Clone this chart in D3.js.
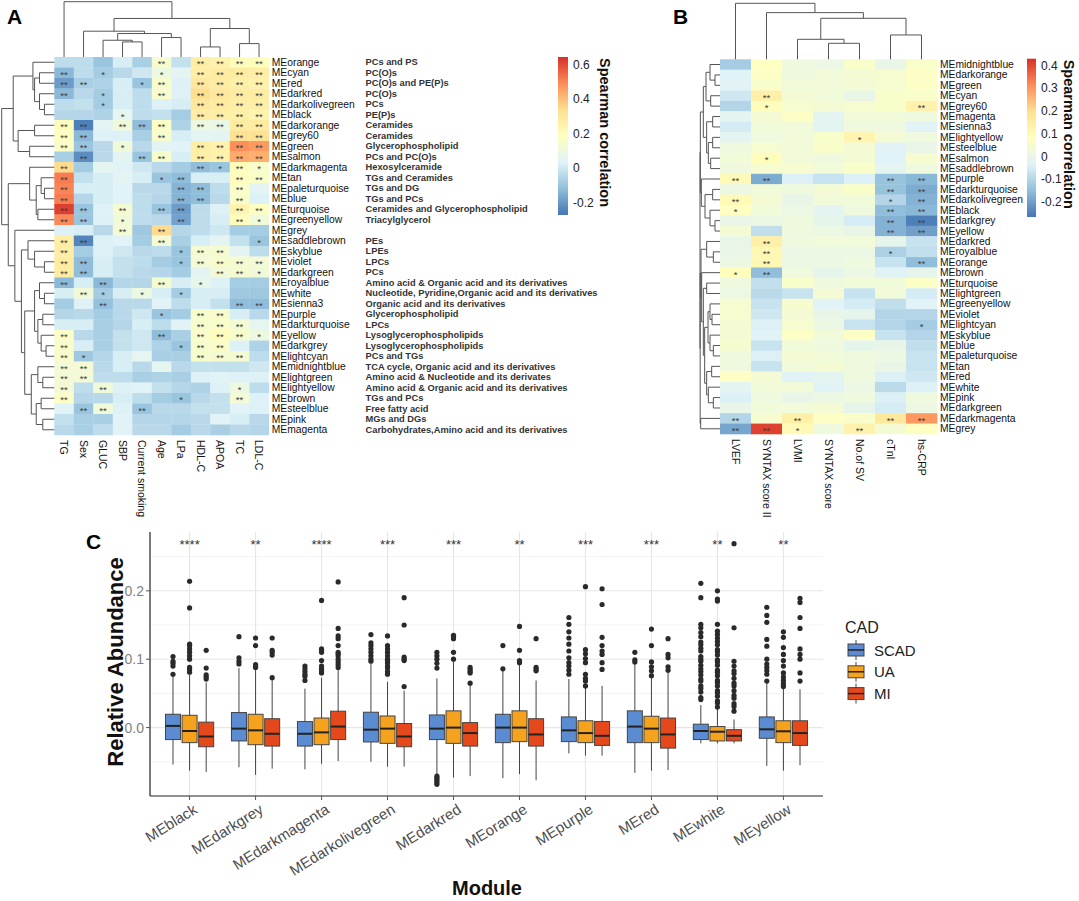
<!DOCTYPE html>
<html>
<head>
<meta charset="utf-8">
<script src="https://cdn.jsdelivr.net/npm/d3@7"></script>
<style>
body { margin: 0; background: #fff; }
text { font-family: "Liberation Sans", Arial, sans-serif; }
</style>
</head>
<body>
<svg id="viz" width="1079" height="901"></svg>
<script>
/* ---------- data: panel A ---------- */
var rowsA = ["MEorange","MEcyan","MEred","MEdarkred","MEdarkolivegreen","MEblack","MEdarkorange","MEgrey60","MEgreen","MEsalmon","MEdarkmagenta","MEtan","MEpaleturquoise","MEblue","MEturquoise","MEgreenyellow","MEgrey","MEsaddlebrown","MEskyblue","MEviolet","MEdarkgreen","MEroyalblue","MEwhite","MEsienna3","MEpurple","MEdarkturquoise","MEyellow","MEdarkgrey","MElightcyan","MEmidnightblue","MElightgreen","MElightyellow","MEbrown","MEsteelblue","MEpink","MEmagenta"];
var notesA = ["PCs and PS","PC(O)s","PC(O)s and PE(P)s","PC(O)s","PCs","PE(P)s","Ceramides","Ceramides","Glycerophospholipid","PCs and PC(O)s","Hexosylceramide","TGs and Ceramides","TGs and DG","TGs and PCs","Ceramides and Glycerophospholipid","Triacylglycerol","","PEs","LPEs","LPCs","PCs","Amino acid & Organic acid and its derivatives","Nucleotide, Pyridine,Organic acid and its derivatives","Organic acid and  its derivatives","Glycerophospholipid","LPCs","Lysoglycerophospholipids","Lysoglycerophospholipids","PCs and TGs","TCA cycle, Organic acid and  its derivatives","Amino acid & Nucleotide and its derivates","Amino acid & Organic acid and  its derivatives","TGs and PCs","Free fatty acid","MGs and DGs","Carbohydrates,Amino acid and its derivatives"];
var colsA = ["TG","Sex","GLUC","SBP","Current smoking","Age","LPa","HDL-C","APOA","TC","LDL-C"];

var valsA = [
	[-0.03,-0.03,-0.10,0.02,-0.07,0.15,-0.02,0.27,0.25,0.20,0.20],
	[-0.13,-0.03,-0.08,-0.04,0.00,0.10,0.05,0.27,0.28,0.28,0.27],
	[-0.19,-0.07,-0.06,0.02,-0.10,0.15,0.03,0.30,0.28,0.26,0.25],
	[-0.13,-0.04,-0.08,0.02,-0.03,0.15,0.03,0.34,0.30,0.28,0.28],
	[-0.03,-0.02,-0.08,0.02,-0.03,0.03,0.02,0.30,0.28,0.27,0.27],
	[-0.05,-0.05,-0.06,0.06,-0.03,-0.02,-0.08,0.28,0.27,0.26,0.24],
	[0.20,-0.25,0.05,0.12,-0.12,0.17,-0.06,0.10,0.08,0.28,0.28],
	[0.18,-0.13,0.03,0.03,-0.07,0.15,0.02,0.05,0.05,0.33,0.33],
	[0.16,-0.10,-0.04,0.12,-0.04,0.05,0.04,0.27,0.25,0.49,0.47],
	[-0.07,-0.22,-0.04,0.05,-0.10,0.15,0.02,0.27,0.25,0.44,0.43],
	[0.35,-0.08,0.06,0.04,0.00,-0.04,-0.08,-0.12,-0.10,0.20,0.15],
	[0.52,-0.02,0.02,0.05,0.02,-0.10,-0.12,0.02,0.02,0.20,0.17],
	[0.51,0.02,0.02,0.04,-0.04,-0.04,-0.14,-0.12,-0.03,0.17,0.05],
	[0.52,-0.05,0.02,0.04,-0.03,-0.05,-0.14,-0.12,-0.04,0.16,0.03],
	[0.62,-0.10,0.03,0.14,-0.03,-0.10,-0.19,-0.03,0.03,0.24,0.18],
	[0.50,-0.10,0.03,0.12,-0.03,-0.04,-0.18,-0.03,0.02,0.20,0.12],
	[0.03,0.02,-0.04,0.13,-0.09,0.35,-0.05,-0.03,0.00,-0.08,-0.08],
	[0.27,-0.24,0.03,0.04,-0.08,0.13,-0.07,0.02,0.05,-0.02,-0.10],
	[0.27,-0.08,0.03,0.00,-0.04,-0.03,-0.10,0.14,0.14,0.05,-0.03],
	[0.28,-0.12,0.02,-0.02,-0.03,-0.08,-0.10,0.13,0.15,0.14,0.13],
	[0.28,-0.12,0.02,-0.02,-0.04,-0.05,-0.08,0.05,0.12,0.14,0.12],
	[-0.13,0.02,-0.13,-0.05,-0.05,0.14,0.02,0.07,0.03,-0.08,-0.08],
	[0.02,0.12,-0.08,0.02,0.10,0.02,-0.08,0.02,0.02,-0.09,-0.09],
	[-0.08,0.03,-0.11,-0.04,-0.04,0.04,-0.03,0.02,-0.02,-0.12,-0.12],
	[-0.05,-0.04,-0.08,-0.04,0.00,-0.10,-0.08,0.15,0.15,0.02,-0.04],
	[0.02,0.02,-0.07,-0.05,0.02,-0.03,0.04,0.15,0.16,0.13,0.06],
	[0.17,-0.04,-0.07,-0.02,0.00,-0.12,-0.07,0.16,0.20,0.15,0.10],
	[0.15,0.02,-0.07,-0.02,0.00,-0.06,-0.10,0.15,0.16,0.03,-0.06],
	[0.15,-0.09,-0.05,0.02,0.06,-0.07,-0.07,0.15,0.14,0.14,-0.03],
	[0.13,0.13,-0.04,0.02,-0.04,0.06,-0.04,-0.02,-0.02,-0.02,0.00],
	[0.13,0.13,-0.03,-0.03,-0.07,-0.06,-0.07,0.03,0.04,0.03,0.03],
	[0.13,-0.03,0.12,0.03,0.04,-0.02,-0.05,-0.06,0.03,0.10,-0.03],
	[0.17,-0.05,-0.04,0.02,-0.03,-0.08,-0.10,-0.04,-0.02,0.13,0.03],
	[0.04,-0.10,0.12,0.03,-0.10,-0.04,-0.04,-0.02,-0.02,0.04,0.03],
	[-0.02,-0.07,-0.07,0.04,-0.05,-0.05,-0.05,-0.04,0.04,0.02,-0.04],
	[-0.04,-0.07,-0.03,0.04,-0.04,-0.04,-0.08,-0.04,-0.07,-0.04,-0.05]
];
// 0 = none, 1 = *, 2 = **
var sigA = ["00000202222","20100102222","22001202222","20100202222","00100002222","00010002222",
	"22022202222","22000200022","22010002222","02002202222","20000002121","20000120022",
	"20000022020","20000022020","22020220022","22010020021","00020200000","22000200001",
	"20000012200","22000012222","22000000221","20200201000","02101010000","00200000022",
	"00000102200","00000002220","20000202221","20000012200","21000002220","22000000000",
	"22000000000","20200000010","20000010020","02202000000","00000000000","00000000000"];

// dendrograms: [height, left, right], leaves are indices
var rowTreeA = [160,
	[125, [65, 0, [60, [45, 1, 2], [45, 3, [30, 4, 5]]]], [110, [60, 6, 7], [75, 8, 9]]],
	[140, [75, 10, [55, [40, 11, [30, 12, 13]], [50, 14, 15]]],
		[120, 16, [100, [80, 17, [60, 18, [30, 19, 20]]],
			[90, [60, [45, 21, [30, 22, 23]], [50, [35, 24, 25], [40, 26, [25, 27, 28]]]],
				[70, [50, 29, [35, 30, 31]], [55, [40, 32, 33], [35, 34, 35]]]]]]]];
var colTreeA = [165, 0, [115, [77, 1, [70, [50, 2, [45, 3, 4]], [58, 5, 6]]], [85, [30, 7, 8], [40, 9, 10]]]];
var legendTicksA = [0.6, 0.4, 0.2, 0, -0.2];
var rangeA = [-0.27, 0.646];

/* ---------- data: panel B ---------- */
var rowsB = ["MEmidnightblue","MEdarkorange","MEgreen","MEcyan","MEgrey60","MEmagenta","MEsienna3","MElightyellow","MEsteelblue","MEsalmon","MEsaddlebrown","MEpurple","MEdarkturquoise","MEdarkolivegreen","MEblack","MEdarkgrey","MEyellow","MEdarkred","MEroyalblue","MEorange","MEbrown","MEturquoise","MElightgreen","MEgreenyellow","MEviolet","MElightcyan","MEskyblue","MEblue","MEpaleturquoise","MEtan","MEred","MEwhite","MEpink","MEdarkgreen","MEdarkmagenta","MEgrey"];
var colsB = ["LVEF","SYNTAX score II","LVMI","SYNTAX score","No.of SV","cTnI","hs-CRP"];
var valsB = [
	[-0.12,0.08,0.02,0.01,0.06,0.00,0.06],
	[-0.03,0.07,0.02,0.03,0.04,0.05,0.07],
	[-0.03,0.06,0.03,0.03,0.04,0.05,0.07],
	[-0.06,0.14,0.04,0.03,0.00,0.06,0.06],
	[-0.10,0.09,0.05,0.04,0.05,0.06,0.13],
	[-0.02,0.04,0.07,-0.02,0.03,0.03,0.02],
	[-0.05,0.03,0.03,-0.02,0.02,0.02,-0.03],
	[-0.02,0.02,0.03,0.06,0.12,0.04,0.02],
	[0.02,0.05,0.03,0.06,0.04,-0.03,0.00],
	[0.03,0.09,0.03,0.02,0.04,-0.03,0.05],
	[0.02,0.05,0.05,0.03,0.06,-0.02,0.02],
	[0.10,-0.18,-0.04,-0.07,-0.04,-0.14,-0.16],
	[0.01,0.03,0.02,0.04,0.06,-0.14,-0.18],
	[0.10,0.04,0.00,0.03,0.03,-0.10,-0.17],
	[0.08,0.03,0.01,-0.02,0.02,-0.15,-0.16],
	[0.00,0.01,0.02,-0.01,-0.05,-0.17,-0.25],
	[0.04,-0.08,0.02,0.01,0.00,-0.17,-0.20],
	[0.00,0.14,0.02,0.03,0.03,-0.01,-0.07],
	[0.00,0.11,0.01,0.01,0.01,-0.11,-0.08],
	[0.01,0.11,0.01,0.01,0.02,-0.07,-0.15],
	[0.09,-0.15,0.02,-0.01,0.01,-0.03,-0.01],
	[0.02,-0.08,0.06,0.02,0.03,0.03,0.07],
	[0.01,-0.09,-0.07,0.04,-0.07,0.03,-0.05],
	[0.05,-0.07,0.05,-0.03,-0.05,-0.08,-0.03],
	[0.05,-0.06,0.04,0.00,-0.01,-0.10,-0.10],
	[0.04,-0.04,0.05,0.01,-0.07,-0.10,-0.12],
	[0.04,-0.03,0.07,0.03,0.07,-0.07,-0.10],
	[0.05,-0.07,0.03,0.02,-0.01,0.00,-0.08],
	[0.02,-0.04,0.04,0.03,0.02,0.01,-0.07],
	[0.02,-0.07,0.03,0.04,0.02,0.00,-0.07],
	[0.07,0.04,-0.03,-0.02,0.02,-0.04,-0.06],
	[-0.02,0.03,0.03,-0.03,0.01,-0.09,-0.04],
	[-0.04,0.02,0.00,0.01,0.02,-0.04,0.02],
	[0.00,0.03,0.03,0.04,-0.01,-0.05,0.01],
	[-0.10,0.05,0.14,0.07,0.06,0.17,0.30],
	[-0.19,0.41,0.10,0.02,0.13,0.04,0.08]
];
var sigB = ["0000000","0000000","0000000","0200000","0100002","0000000","0000000","0000100",
	"0000000","0100000","0000000","2200022","0000022","2000012","1000022","0000022","0000022",
	"0200000","0200010","0200002","1200000","0000000","0000000","0000000","0000000","0000001",
	"0000000","0000000","0000000","0000000","0000000","0000000","0000000","0000000","2020022","2210200"];
var rowTreeB = [60,
	[59, [50, [42, [30, 0, [15, 1, 2]], [28, 3, 4]], [40, [22, 5, 6], [35, [22, 7, 8], [28, 9, 10]]]],
		[56, 11, [45, [22, 12, 13], [30, 14, [15, 15, 16]]]]],
	[59.5, [57, [40, 17, [20, 18, 19]], [55, 20, [50, [40, 21, 22],
		[46, [36, [30, 23, [24, 24, 25]], [30, 26, [20, 27, 28]]], [40, [25, 29, 30], [35, 31, [20, 32, 33]]]]]]],
		[58, 34, 35]]];
var colTreeB = [168, 0, [140, 1, [123, [60, 2, [48, 3, 4]], [73, 5, 6]]]];
var legendTicksB = [0.4, 0.3, 0.2, 0.1, 0, -0.1, -0.2];
var rangeB = [-0.266, 0.431];

/* ---------- data: panel C ---------- */
var modules = ["MEblack","MEdarkgrey","MEdarkmagenta","MEdarkolivegreen","MEdarkred","MEorange","MEpurple","MEred","MEwhite","MEyellow"];
var groups = ["SCAD","UA","MI"];
var groupColors = ["#5b8bd0","#f5a21f","#e5481b"];
var sigLabels = ["****","**","****","***","***","**","***","***","**","**"];
// [lower whisker, q1, median, q3, upper whisker] per module, per group
var boxStats = [
	[[-0.054,-0.0175,0.0025,0.0195,0.077],[-0.063,-0.022,-0.005,0.018,0.077],[-0.065,-0.028,-0.013,0.008,0.066]],
	[[-0.058,-0.0195,-0.0015,0.022,0.087],[-0.069,-0.025,-0.004,0.0195,0.085],[-0.06,-0.027,-0.009,0.013,0.071]],
	[[-0.061,-0.027,-0.009,0.0088,0.057],[-0.053,-0.025,-0.007,0.014,0.073],[-0.049,-0.0175,0.0015,0.024,0.085]],
	[[-0.05,-0.021,-0.003,0.0225,0.093],[-0.057,-0.023,-0.0015,0.017,0.067],[-0.057,-0.028,-0.013,0.006,0.054]],
	[[-0.068,-0.0175,-0.0015,0.0185,0.072],[-0.073,-0.023,0,0.0245,0.096],[-0.071,-0.027,-0.008,0.0073,0.063]],
	[[-0.074,-0.022,0,0.0195,0.085],[-0.068,-0.0205,0,0.0245,0.093],[-0.077,-0.027,-0.01,0.013,0.069]],
	[[-0.0376,-0.0205,-0.004,0.0156,0.071],[-0.041,-0.022,-0.008,0.01,0.058],[-0.041,-0.026,-0.012,0.009,0.061]],
	[[-0.066,-0.022,0.0015,0.0245,0.093],[-0.063,-0.022,-0.0015,0.0166,0.073],[-0.062,-0.03,-0.01,0.014,0.082]],
	[[-0.023,-0.0175,-0.005,0.005,0.033],[-0.023,-0.0195,-0.006,0.0015,0.029],[-0.023,-0.0195,-0.012,-0.003,0.012]],
	[[-0.056,-0.0156,-0.0025,0.0156,0.066],[-0.063,-0.022,-0.0054,0.01,0.059],[-0.055,-0.026,-0.008,0.01,0.056]]
];
var outliers = [
	[[0.078,0.09,0.094,0.097,0.104],[0.081,0.085,0.088,0.1,0.105,0.11,0.115,0.12,0.122,0.175,0.214],[0.071,0.074,0.077,0.087,0.113]],
	[[0.093,0.097,0.102,0.133],[0.088,0.09,0.092,0.12,0.131],[0.073,0.106,0.11,0.113,0.131]],
	[[0.069,0.075,0.078,0.082,0.086,0.09],[0.08,0.083,0.086,0.09,0.098,0.11,0.113,0.115,0.186],[0.088,0.092,0.096,0.1,0.105,0.108,0.11,0.12,0.13,0.134,0.145,0.213]],
	[[0.097,0.1,0.105,0.11,0.115,0.12,0.124,0.136],[0.078,0.082,0.087,0.09,0.095,0.098,0.1,0.105,0.11,0.115,0.12,0.134],[0.06,0.098,0.1,0.103,0.15,0.19]],
	[[-0.083,-0.08,-0.077,-0.074,-0.071,0.087,0.094,0.1,0.105,0.11],[0.1,0.11,0.13,0.133,0.135],[0.065,0.08,0.082,0.085,0.088]],
	[[0.086,0.12],[0.095,0.098,0.113,0.148],[0.083,0.085,0.088,0.13]],
	[[0.078,0.084,0.09,0.095,0.102,0.112,0.122,0.131,0.14,0.151,0.161],[0.061,0.068,0.072,0.078,0.095,0.101,0.108,0.114,0.206],[0.085,0.095,0.107,0.112,0.12,0.132,0.18,0.203]],
	[[0.096,0.099,0.11],[0.076,0.083,0.089,0.096,0.12,0.144],[0.084,0.089,0.102,0.107,0.13]],
	[[0.041,0.044,0.052,0.057,0.061,0.068,0.071,0.077,0.082,0.086,0.091,0.097,0.1,0.104,0.112,0.116,0.121,0.125,0.133,0.139,0.146,0.151,0.19,0.211],
	 [0.03,0.036,0.039,0.046,0.051,0.054,0.061,0.066,0.069,0.076,0.081,0.084,0.091,0.096,0.099,0.106,0.111,0.114,0.121,0.126,0.131,0.136,0.141,0.151,0.185,0.188,0.2],
	 [0.024,0.031,0.035,0.043,0.047,0.054,0.061,0.065,0.072,0.079,0.083,0.09,0.097,0.146,0.269]],
	[[0.068,0.078,0.083,0.088,0.093,0.1,0.119,0.129,0.154,0.164,0.176],[0.06,0.064,0.069,0.074,0.08,0.09,0.098,0.107,0.117,0.132,0.14],[0.068,0.08,0.1,0.107,0.115,0.145,0.161,0.183,0.189]]
];
var yTicksC = [0, 0.1, 0.2];
var yMinorC = [-0.05, 0.05, 0.15, 0.25];

/* ---------- helpers ---------- */
var palette = ["#4575B4","#91BFDB","#E0F3F8","#FFFFBF","#FEE090","#FC8D59","#D73027"];
var svg = d3.select("#viz");

var makeColor = function(range){
	var stops = palette.map(function(c, i){ return range[0] + (range[1] - range[0]) * i / 6; });
	return d3.scaleLinear().domain(stops).range(palette);
}

var drawTree = function(g, node, leafPos, hPos, top){
	if (typeof node === "number") return { p: leafPos(node), h: 0 };
	var h = node[0];
	var kids = node.slice(1).map(function(k){ return drawTree(g, k, leafPos, hPos, top); });
	var path = d3.path();
	kids.forEach(function(k){
		if (top) { path.moveTo(k.p, hPos(k.h)); path.lineTo(k.p, hPos(h)); }
		else { path.moveTo(hPos(k.h), k.p); path.lineTo(hPos(h), k.p); }
	});
	if (top) { path.moveTo(kids[0].p, hPos(h)); path.lineTo(kids[1].p, hPos(h)); }
	else { path.moveTo(hPos(h), kids[0].p); path.lineTo(hPos(h), kids[1].p); }
	g.append("path").attr("d", path.toString())
		.attr("fill", "none").attr("stroke", "#555").attr("stroke-width", 1);
	return { p: (kids[0].p + kids[1].p) / 2, h: h };
}

var drawHeatmap = function(opt){
	var x = d3.scaleBand().domain(opt.cols).range(opt.xr);
	var y = d3.scaleBand().domain(opt.rows).range(opt.yr);
	var color = makeColor(opt.range);
	var g = svg.append("g");

	opt.vals.forEach(function(row, i){
		row.forEach(function(v, j){
			g.append("rect")
				.attr("x", x(opt.cols[j])).attr("y", y(opt.rows[i]))
				.attr("width", x.bandwidth() + 0.3).attr("height", y.bandwidth() + 0.3)
				.attr("fill", color(v));
			var s = +opt.sig[i][j];
			if (s > 0) {
				g.append("text")
					.attr("x", x(opt.cols[j]) + x.bandwidth() / 2)
					.attr("y", y(opt.rows[i]) + y.bandwidth() / 2 + 5.2)
					.attr("text-anchor", "middle")
					.attr("font-size", "9.5px").attr("fill", "#3c3c3c")
					.text(s === 2 ? "**" : "*");
			}
		});
	});

	// row labels
	g.selectAll(".rl").data(opt.rows).enter().append("text")
		.attr("x", opt.xr[1] + 3)
		.attr("y", function(d){ return y(d) + y.bandwidth() / 2; })
		.attr("dominant-baseline", "central")
		.attr("font-size", "10.3px").attr("fill", "#111")
		.text(function(d){ return d; });

	// column labels
	g.selectAll(".cl").data(opt.cols).enter().append("text")
		.attr("transform", function(d){
			return "translate(" + (x(d) + x.bandwidth() / 2) + "," + (opt.yr[1] + 5) + ") rotate(90)";
		})
		.attr("dominant-baseline", "central")
		.attr("font-size", "10.5px").attr("fill", "#111")
		.text(function(d){ return d; });

	drawTree(g, opt.rowTree, function(i){ return y(opt.rows[i]) + y.bandwidth() / 2; },
		d3.scaleLinear().domain(opt.rowTreeDom).range([opt.xr[0], opt.rowTreeEnd]), false);
	drawTree(g, opt.colTree, function(i){ return x(opt.cols[i]) + x.bandwidth() / 2; },
		d3.scaleLinear().domain(opt.colTreeDom).range([opt.yr[0], opt.colTreeEnd]), true);

	// colour legend
	var id = "grad" + opt.name;
	var grad = svg.append("defs").append("linearGradient").attr("id", id)
		.attr("x1", 0).attr("y1", 1).attr("x2", 0).attr("y2", 0);
	palette.forEach(function(c, i){
		grad.append("stop").attr("offset", i / 6).attr("stop-color", c);
	});
	var ly = d3.scaleLinear().domain(opt.range).range([opt.legend.y1, opt.legend.y0]);
	g.append("rect")
		.attr("x", opt.legend.x).attr("y", opt.legend.y0)
		.attr("width", opt.legend.w).attr("height", opt.legend.y1 - opt.legend.y0)
		.attr("fill", "url(#" + id + ")");
	g.selectAll(".lt").data(opt.ticks).enter().append("text")
		.attr("x", opt.legend.x + opt.legend.w + 5)
		.attr("y", function(d){ return ly(d); })
		.attr("dominant-baseline", "central")
		.attr("font-size", "12px").attr("fill", "#222")
		.text(function(d){ return d === 0 ? "0" : d; });
	g.append("text")
		.attr("transform", "translate(" + opt.legend.tx + "," + (opt.legend.y0 + 1) + ") rotate(90)")
		.attr("dominant-baseline", "central")
		.attr("font-size", "14.5px").attr("font-weight", "bold").attr("fill", "#111")
		.text("Spearman correlation");
	return { x: x, y: y, g: g };
}

/* ---------- panel A ---------- */
var hmA = drawHeatmap({
	name: "A", rows: rowsA, cols: colsA, vals: valsA, sig: sigA, range: rangeA,
	xr: [54.3, 268.8], yr: [57, 435],
	rowTree: rowTreeA, rowTreeDom: [0, 160], rowTreeEnd: 1.7,
	colTree: colTreeA, colTreeDom: [0, 165], colTreeEnd: 1.7,
	ticks: legendTicksA,
	legend: { x: 558, w: 10, y0: 57, y1: 215, tx: 605 }
});
hmA.g.selectAll(".note").data(notesA).enter().append("text")
	.attr("x", 365.5)
	.attr("y", function(d, i){ return hmA.y(rowsA[i]) + hmA.y.bandwidth() / 2; })
	.attr("dominant-baseline", "central")
	.attr("font-size", "9.3px").attr("font-weight", "bold").attr("fill", "#333")
	.text(function(d){ return d; });

/* ---------- panel B ---------- */
drawHeatmap({
	name: "B", rows: rowsB, cols: colsB, vals: valsB, sig: sigB, range: rangeB,
	xr: [720, 937], yr: [59.3, 434],
	rowTree: rowTreeB, rowTreeDom: [0, 60], rowTreeEnd: 700,
	colTree: colTreeB, colTreeDom: [0, 168], colTreeEnd: 3.3,
	ticks: legendTicksB,
	legend: { x: 1027, w: 9, y0: 58.7, y1: 217, tx: 1069 }
});

/* ---------- panel C ---------- */
var xC = d3.scalePoint().domain(modules).range([150, 823]).padding(0.6);
var yC = d3.scaleLinear().domain([-0.1, 0.286]).range([796, 532]);
var dodge = 16.6, boxW = 15;
var gc = svg.append("g");

// grid
gc.selectAll(".minor").data(yMinorC).enter().append("line")
	.attr("x1", 150).attr("x2", 823)
	.attr("y1", function(d){ return yC(d); }).attr("y2", function(d){ return yC(d); })
	.attr("stroke", "#f0f0f0").attr("stroke-width", 0.8);
gc.selectAll(".major").data(yTicksC).enter().append("line")
	.attr("x1", 150).attr("x2", 823)
	.attr("y1", function(d){ return yC(d); }).attr("y2", function(d){ return yC(d); })
	.attr("stroke", "#e6e6e6").attr("stroke-width", 1.1);
gc.selectAll(".vgrid").data(modules).enter().append("line")
	.attr("x1", function(d){ return xC(d); }).attr("x2", function(d){ return xC(d); })
	.attr("y1", 532).attr("y2", 796)
	.attr("stroke", "#e6e6e6").attr("stroke-width", 1.1);

// boxes
modules.forEach(function(m, i){
	groups.forEach(function(gname, k){
		var cx = xC(m) + (k - 1) * dodge;
		var s = boxStats[i][k];
		gc.append("line")
			.attr("x1", cx).attr("x2", cx).attr("y1", yC(s[0])).attr("y2", yC(s[4]))
			.attr("stroke", "#444").attr("stroke-width", 1);
		gc.append("rect")
			.attr("x", cx - boxW / 2).attr("y", yC(s[3]))
			.attr("width", boxW).attr("height", yC(s[1]) - yC(s[3]))
			.attr("fill", groupColors[k]).attr("stroke", "#444").attr("stroke-width", 1);
		gc.append("line")
			.attr("x1", cx - boxW / 2).attr("x2", cx + boxW / 2)
			.attr("y1", yC(s[2])).attr("y2", yC(s[2]))
			.attr("stroke", "#222").attr("stroke-width", 2);
		gc.selectAll(null).data(outliers[i][k]).enter().append("circle")
			.attr("cx", cx).attr("cy", function(d){ return yC(d); })
			.attr("r", 2.6).attr("fill", "#2a2a2a");
	});
});

// significance labels
gc.selectAll(".sig").data(sigLabels).enter().append("text")
	.attr("x", function(d, i){ return xC(modules[i]); })
	.attr("y", 549)
	.attr("text-anchor", "middle")
	.attr("font-size", "13px").attr("fill", "#333")
	.text(function(d){ return d; });

// axes
gc.append("line").attr("x1", 150).attr("x2", 150).attr("y1", 532).attr("y2", 796)
	.attr("stroke", "#222").attr("stroke-width", 1.2);
gc.append("line").attr("x1", 150).attr("x2", 823).attr("y1", 796).attr("y2", 796)
	.attr("stroke", "#222").attr("stroke-width", 1.2);
gc.selectAll(".ytk").data(yTicksC).enter().append("line")
	.attr("x1", 146).attr("x2", 150)
	.attr("y1", function(d){ return yC(d); }).attr("y2", function(d){ return yC(d); })
	.attr("stroke", "#555");
gc.selectAll(".ylab").data(yTicksC).enter().append("text")
	.attr("x", 144).attr("y", function(d){ return yC(d); })
	.attr("text-anchor", "end").attr("dominant-baseline", "central")
	.attr("font-size", "14px").attr("fill", "#7f7f7f")
	.text(d3.format(".1f"));
gc.selectAll(".xtk").data(modules).enter().append("line")
	.attr("x1", function(d){ return xC(d); }).attr("x2", function(d){ return xC(d); })
	.attr("y1", 796).attr("y2", 800)
	.attr("stroke", "#555");
gc.selectAll(".xlab").data(modules).enter().append("text")
	.attr("transform", function(d){ return "translate(" + (xC(d) + 3) + ",803) rotate(-32)"; })
	.attr("text-anchor", "end").attr("dy", "0.72em")
	.attr("font-size", "15px").attr("fill", "#4d4d4d")
	.text(function(d){ return d; });

gc.append("text")
	.attr("transform", "translate(115,662) rotate(-90)")
	.attr("text-anchor", "middle").attr("dominant-baseline", "central")
	.attr("font-size", "22px").attr("font-weight", "bold").attr("fill", "#111")
	.text("Relative Abundance");
gc.append("text")
	.attr("x", 487).attr("y", 895)
	.attr("text-anchor", "middle")
	.attr("font-size", "20px").attr("font-weight", "bold").attr("fill", "#111")
	.text("Module");

// legend
gc.append("text").attr("x", 845).attr("y", 633)
	.attr("font-size", "16px").attr("fill", "#222").text("CAD");
groups.forEach(function(gname, k){
	var cy = 650 + k * 21.8;
	gc.append("line").attr("x1", 856).attr("x2", 856).attr("y1", cy - 10).attr("y2", cy + 10)
		.attr("stroke", "#444");
	gc.append("rect").attr("x", 848).attr("y", cy - 6).attr("width", 16).attr("height", 12)
		.attr("fill", groupColors[k]).attr("stroke", "#444");
	gc.append("line").attr("x1", 848).attr("x2", 864).attr("y1", cy).attr("y2", cy)
		.attr("stroke", "#222").attr("stroke-width", 1.5);
	gc.append("text").attr("x", 874).attr("y", cy)
		.attr("dominant-baseline", "central")
		.attr("font-size", "15px").attr("fill", "#222").text(gname);
});

/* panel letters */
[["A", 7, 24], ["B", 673, 24], ["C", 86, 549]].forEach(function(p){
	svg.append("text").attr("x", p[1]).attr("y", p[2])
		.attr("font-size", "21px").attr("font-weight", "bold").attr("fill", "#000")
		.text(p[0]);
});
</script>
</body>
</html>
